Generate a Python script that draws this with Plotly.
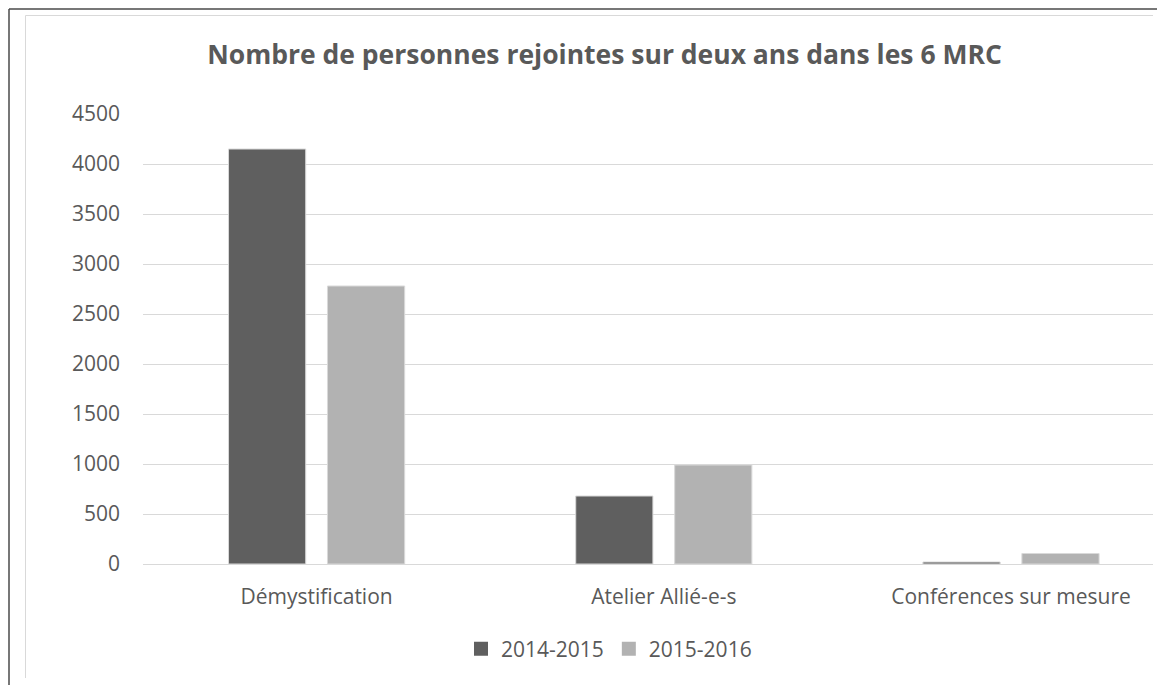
import plotly.graph_objects as go

categories = ["Démystification", "Atelier Allié-e-s", "Conférences sur mesure"]
series_names = ["2014-2015", "2015-2016"]
values_2014_2015 = [4150, 680, 20]
values_2015_2016 = [2780, 990, 105]
series_colors = ["#5f5f5f", "#b2b2b2"]
y_ticks = [0, 500, 1000, 1500, 2000, 2500, 3000, 3500, 4000, 4500]
title_text = "Nombre de personnes rejointes sur deux ans dans les 6 MRC"

W, H = 1165, 685
OFF = 8  # page body margin in the browser
PL, PR, PT, PB = 143, 1153, 114, 564
L = PL - OFF
T = PT - OFF
R = (W + OFF) - PR
B = (H + OFF) - PB
FONT = "Open Sans"
TXT = "#595959"

x_idx = list(range(len(categories)))

fig = go.Figure()
for name, vals, col in zip(series_names, [values_2014_2015, values_2015_2016], series_colors):
    fig.add_trace(go.Bar(
        x=x_idx, y=vals, name=name, showlegend=False,
        marker=dict(color=col, line=dict(color="#d9d9d9", width=1)),
    ))
for name, col in zip(series_names, series_colors):
    fig.add_trace(go.Scatter(
        x=[None], y=[None], name=name, mode="markers",
        marker=dict(symbol="square", size=14, color=col),
    ))

pw = PR - PL
ph = PB - PT

def px_x(p):
    return (p - PL) / pw

def px_y(p):
    return (PB - p) / ph

shapes = [
    dict(type="line", xref="paper", yref="paper", x0=px_x(9), x1=px_x(9), y0=px_y(700), y1=px_y(9),
         line=dict(color="#4a4a4a", width=1.5)),
    dict(type="line", xref="paper", yref="paper", x0=px_x(9), x1=px_x(1170), y0=px_y(9), y1=px_y(9),
         line=dict(color="#4a4a4a", width=1.5)),
    dict(type="line", xref="paper", yref="paper", x0=px_x(25.5), x1=px_x(25.5), y0=px_y(678), y1=px_y(15.5),
         line=dict(color="#d9d9d9", width=1)),
    dict(type="line", xref="paper", yref="paper", x0=px_x(25.5), x1=px_x(1153), y0=px_y(15.5), y1=px_y(15.5),
         line=dict(color="#d9d9d9", width=1)),
]

fig.update_layout(
    width=W, height=H,
    margin=dict(l=L, r=R, t=T, b=B, pad=0),
    paper_bgcolor="white", plot_bgcolor="white",
    barmode="group", bargap=0.43, bargroupgap=0.22,
    font=dict(family=FONT, color=TXT, size=21),
    title=dict(text="<b>" + title_text + "</b>", x=px_x(604.5), xref="paper", xanchor="center",
               y=1 - (55 - OFF) / H, yref="container", yanchor="middle",
               font=dict(family=FONT, size=26.5, color=TXT)),
    showlegend=True,
    legend=dict(orientation="h", x=px_x(609), xanchor="center", y=px_y(649), yanchor="middle",
                font=dict(family=FONT, size=21, color=TXT), itemwidth=30,
                traceorder="normal", bgcolor="rgba(0,0,0,0)"),
    xaxis=dict(tickmode="array", tickvals=x_idx, ticktext=categories, range=[-0.5, pw / 347.2 - 0.5],
               showgrid=False, zeroline=False, showline=False, ticks="", ticklabelstandoff=18,
               tickfont=dict(family=FONT, size=21, color=TXT), fixedrange=True),
    yaxis=dict(range=[0, 4500], tickmode="array", tickvals=y_ticks, showgrid=True, gridcolor="#d9d9d9",
               gridwidth=1.3, zeroline=True, zerolinecolor="#d9d9d9", zerolinewidth=1.3, showline=False,
               ticks="", ticklabelstandoff=22, tickfont=dict(family=FONT, size=21, color=TXT)),
    shapes=shapes,
)

fig.write_html("out.html")
